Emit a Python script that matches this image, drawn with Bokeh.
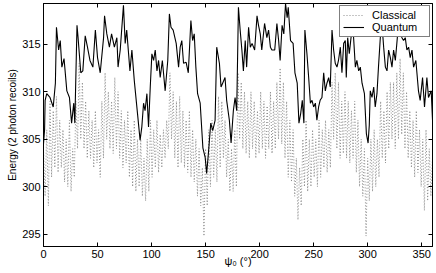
from bokeh.plotting import figure
from bokeh.models import Range1d, LinearAxis, FixedTicker, CustomJSTickFormatter
from bokeh.embed import file_html
from bokeh.resources import INLINE

# ---- data ----
quantum_deg = [0, 1, 1.5, 3, 6, 9, 11, 12, 14, 15.5, 17, 19, 21.6, 24, 26, 28, 29, 31, 32, 34.5, 36.4,
               38.6, 40.7, 43, 45.7, 48, 50, 52.5, 55.6, 56.5, 58.6, 61,
               63, 65.6, 67.9, 69, 71, 74, 75.6, 77, 80, 81.8, 84, 87, 89.4, 91, 92.6, 94, 95.7, 97.2,
               98.8, 100.3, 101.9, 103.4, 105, 106.5, 108, 110, 112.6, 115, 116.5, 118, 120,
               122.8, 125, 126.5, 128, 129.6, 132, 134, 136.4, 138, 139.5, 141, 142.6, 145, 147.5,
               149.6, 151, 152.6, 154.8, 156.6, 158.8, 160.3, 162.8, 164.3, 165.8, 168, 169.5, 172,
               173.6, 175.7, 177.3, 178.8, 180.4,
               182, 183.6, 185, 186.7, 188, 189.8, 191.4, 193, 195.4, 197.6, 199, 200.6, 202, 204.6,
               206.7, 208.3, 210, 211.4, 214, 216, 217.6, 219, 220.8, 222.4, 224, 225.5, 226.5, 228.6,
               231, 232.7, 234.8, 236.4, 238, 239.5, 241, 241.9,
               243.8, 245.4, 247, 248.5, 250, 251.6, 253, 254.6, 256, 257.7, 259.3, 260.8, 262.3,
               263.9, 265.4, 267, 268.5, 270, 271.6, 273, 274.7, 276.2, 277.8, 279.3, 280.2, 281.5,
               283, 284.6, 286.4, 288.6, 290, 291.7, 293.2, 294.8, 297, 298.8, 300.4, 301.5,
               302.4, 304, 305.6, 307, 308.6, 310, 311.7, 313.2, 314.8, 316.4, 317.9, 319.4, 321,
               322.5, 324, 325.6, 327, 328.6, 330, 331.7, 333.2, 334.8, 336.3, 337.9, 339.4, 341,
               342.5, 344.6, 347, 348.6, 350.8, 352.6, 354.8, 356.3, 358.8, 360]
quantum_energy = [304.5, 306.0, 309.1, 309.8, 309.4, 308.4, 310.9, 316.8, 314.4, 315.4, 312.6, 313.5,
                  310.1, 309.4, 306.7, 308.8, 306.7, 317.0, 315.7, 312.0, 312.2,
                  315.9, 314.7, 313.3, 312.6, 316.5, 313.6, 312.0, 315.7, 318.0, 316.1, 314.7,
                  316.1, 314.7, 315.7, 312.6, 314.4, 319.1, 315.1, 316.5, 312.2, 314.4, 311.2, 307.7,
                  304.9, 306.3, 308.8, 308.0, 309.8, 306.3,
                  310.5, 314.0, 313.3, 314.4, 312.2, 313.3, 311.5, 313.3, 310.1, 313.3, 318.2, 316.8,
                  316.5,
                  315.1, 312.6, 314.7, 315.4, 313.0, 313.1, 312.0, 317.5, 315.4, 316.1, 312.6, 309.8,
                  308.8, 304.1,
                  303.1, 301.4, 303.5, 306.7, 305.9, 307.0, 314.7, 313.0, 310.5, 310.9, 311.5, 309.1,
                  307.0,
                  304.6, 308.0, 309.4, 308.0, 318.9,
                  316.5, 314.4, 312.2, 315.4, 312.6, 316.8, 314.7, 315.1, 314.4, 318.0, 317.0, 316.1,
                  314.4, 317.2,
                  315.7, 316.5, 314.7, 314.4, 314.4, 317.2, 315.4, 313.3, 317.0, 316.1, 319.3, 317.8,
                  318.9, 315.4,
                  315.1, 312.0, 310.9, 306.7, 307.7, 309.1, 306.7, 316.5,
                  314.0, 311.5, 308.8, 309.1, 308.4, 308.8, 307.0, 308.4, 309.1, 309.4, 312.0, 310.1,
                  310.9,
                  311.5, 310.5, 316.5, 314.4, 313.0, 312.6, 313.3, 314.7, 312.0, 315.1, 315.4, 311.5,
                  315.7,
                  314.0, 315.7, 316.8, 312.6, 313.3, 312.2, 312.6, 310.9, 309.8, 305.6, 304.6, 306.5,
                  310.1, 309.4, 310.5, 308.4, 309.8, 312.6, 315.7, 317.2, 314.7, 312.6, 312.2, 314.4,
                  313.6,
                  312.6, 314.4, 313.3, 315.1, 317.2, 316.5, 315.7, 315.4, 315.7, 314.4, 314.7, 313.6,
                  314.4,
                  312.6, 313.3, 310.1, 309.1, 311.5, 308.4, 311.5, 309.4, 310.1, 307.0]

classical_step = 3.0  # degrees between successive peaks
classical_peak = [304, 306, 309, 308, 309.5, 307, 306, 305, 307, 304,
                  309, 313, 311, 309, 308, 307, 308, 306, 309, 312,
                  310, 309, 311.5, 310, 308, 307, 308, 306, 307, 305,
                  305, 303, 305, 307, 306, 307, 305.5, 306, 307, 312,
                  310, 309, 309.5, 308, 307, 308, 306, 305, 304, 302,
                  304, 306, 307, 306, 309.5, 309, 307, 305, 304, 306,
                  312, 311, 310, 309, 310, 309, 308, 310, 309, 308.5,
                  310, 309, 311, 312.5, 311, 309, 307, 306, 303, 302,
                  305, 307, 305, 306, 305, 307, 306, 307, 306, 311,
                  312, 311, 309, 310, 309, 308, 309, 307, 305, 304,
                  303, 305, 306, 305, 309, 308, 310, 311, 311, 312,
                  313.5, 312, 310, 308, 307, 308, 306, 305, 306, 304,
                  303]
classical_trough = [299, 298, 301, 302, 301.5, 302, 300.5, 300, 299.5, 301,
                    304, 305, 304, 303, 303, 302, 302.5, 301, 303, 305,
                    304, 303.5, 304, 303, 302, 302.5, 301, 300, 299.5, 300,
                    299, 298.5, 299.5, 301, 302, 301.5, 302, 303, 304, 305,
                    303, 302, 302.5, 302, 301.5, 301, 300.5, 299, 298, 294.8,
                    298, 300, 301, 300.5, 302, 303, 301, 299.5, 299.5, 300,
                    305, 304, 303.5, 303, 304, 303, 303.5, 304, 303, 304,
                    303.5, 304, 305, 304.5, 303, 301, 300.5, 299, 296.5, 298,
                    300, 299.5, 300, 301, 300, 301, 302, 301.5, 302, 305,
                    304, 303, 303.5, 303, 302.5, 303, 301.5, 300, 299, 294.8,
                    298.5, 299.5, 300, 301, 303, 302.5, 304, 305, 304, 305,
                    305.5, 304, 303, 302, 301, 301.5, 300, 297.5, 298.5, 299]

x_ticks = [0, 50, 100, 150, 200, 250, 300, 350]
y_ticks = [295, 300, 305, 310, 315]
x_title = "ψ₀ (°)"
y_title = "Energy (2 photon recoils)"
x_min, x_max = 0, 360
y_min, y_max = 293.7, 319.3

# interleave peaks and troughs along the angle axis
classical_deg = []
classical_energy = []
for i, pk in enumerate(classical_peak):
    classical_deg.append(i * classical_step)
    classical_energy.append(pk)
    if i < len(classical_trough):
        classical_deg.append(i * classical_step + classical_step / 2)
        classical_energy.append(classical_trough[i])

FONT = "Liberation Sans"

p = figure(width=436, height=273, output_backend="svg", toolbar_location=None,
           x_range=Range1d(x_min, x_max), y_range=Range1d(y_min, y_max),
           min_border_left=43, min_border_right=4, min_border_top=3, min_border_bottom=27)
p.styles = {"position": "absolute", "left": "0px", "top": "0px"}
p.xgrid.visible = False
p.ygrid.visible = False
p.outline_line_color = "black"
p.outline_line_alpha = 1.0
p.background_fill_color = "white"
p.border_fill_color = "white"

p.line(classical_deg, classical_energy, line_color="#8c8c8c", line_width=1,
       line_dash="1 2", legend_label="Classical")
p.line(quantum_deg, quantum_energy, line_color="black", line_width=1.1,
       legend_label="Quantum")

bottom_axis = p.below[0]
left_axis = p.left[0]
bottom_axis.ticker = FixedTicker(ticks=x_ticks)
left_axis.ticker = FixedTicker(ticks=y_ticks)
bottom_axis.axis_label = x_title
left_axis.axis_label = y_title

top_axis = LinearAxis(ticker=FixedTicker(ticks=x_ticks),
                      formatter=CustomJSTickFormatter(code="return ''"))
right_axis = LinearAxis(ticker=FixedTicker(ticks=y_ticks),
                        formatter=CustomJSTickFormatter(code="return ''"))
p.add_layout(top_axis, "above")
p.add_layout(right_axis, "right")

for ax in [bottom_axis, left_axis, top_axis, right_axis]:
    ax.major_tick_in = 4
    ax.major_tick_out = 0
    ax.minor_tick_line_color = None
    ax.axis_line_color = "black"
    ax.major_tick_line_color = "black"
    ax.major_label_text_font = FONT
    ax.major_label_text_font_size = "11px"
    ax.major_label_text_color = "black"
    ax.axis_label_text_font = FONT
    ax.axis_label_text_font_size = "10px"
    ax.axis_label_text_font_style = "normal"
    ax.axis_label_text_color = "black"

for ax in [top_axis, right_axis]:
    ax.major_label_standoff = 0
    ax.major_label_text_font_size = "1px"

bottom_axis.axis_label_text_font_size = "11px"
bottom_axis.major_label_standoff = 3
bottom_axis.axis_label_standoff = -6
left_axis.major_label_standoff = 3
left_axis.axis_label_standoff = 1

lg = p.legend[0]
lg.location = "top_right"
lg.margin = 2
lg.padding = 3
lg.spacing = 0
lg.glyph_width = 21
lg.glyph_height = 10
lg.label_height = 10
lg.label_width = 54
lg.label_standoff = 8
lg.label_text_font = FONT
lg.label_text_font_size = "11px"
lg.label_text_color = "black"
lg.border_line_color = "black"
lg.border_line_width = 1
lg.background_fill_color = "white"
lg.background_fill_alpha = 1.0

open("out.html", "w").write(file_html(p, INLINE))
